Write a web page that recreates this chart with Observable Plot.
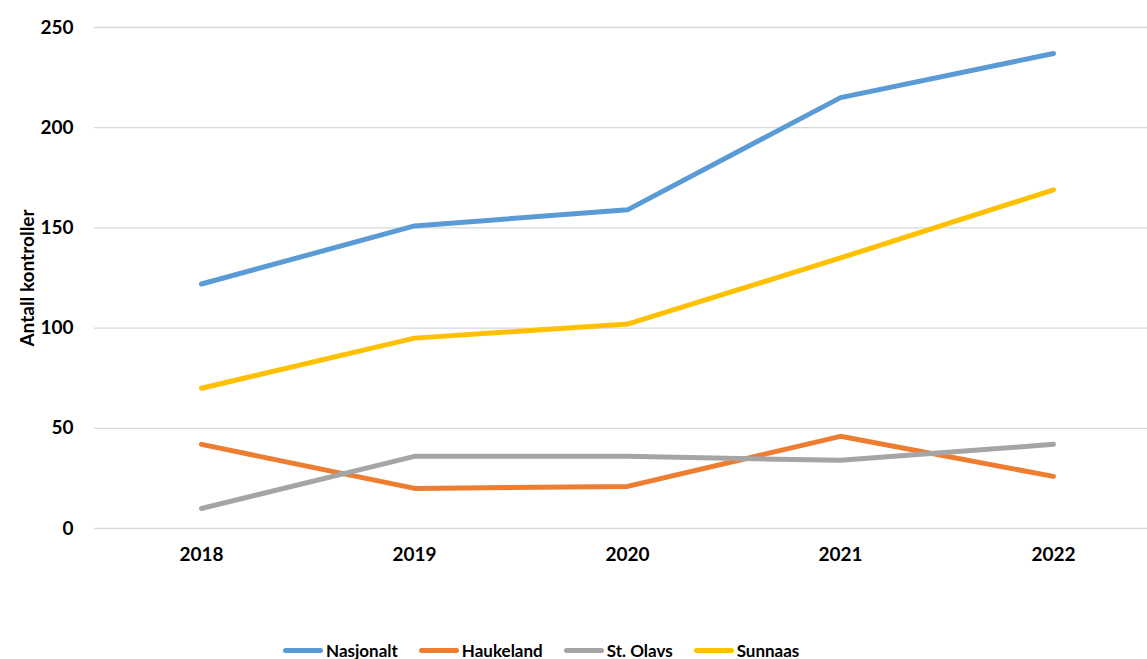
<!DOCTYPE html>
<html>
<head>
<meta charset="utf-8">
<script src="https://cdn.jsdelivr.net/npm/d3@7"></script>
<script src="https://cdn.jsdelivr.net/npm/@observablehq/plot@0.6"></script>
<style>
  html, body { margin: 0; padding: 0; background: #fff; }
  #wrap { position: relative; width: 1147px; height: 659px; overflow: hidden; font-family: Lato, "Open Sans", sans-serif; }
  #legend { position: absolute; left: 283px; top: 638px; height: 24px; display: flex; align-items: center; gap: 21px; font-weight: 700; font-size: 17px; color: #000; }
  .item { display: flex; align-items: center; gap: 3px; }
  .sw { width: 40px; height: 5px; border-radius: 3px; }
</style>
</head>
<body>
<div id="wrap"><div id="chart"></div><div id="legend"></div></div>
<script>
const years = ["2018", "2019", "2020", "2021", "2022"];
const seriesNames = ["Nasjonalt", "Haukeland", "St. Olavs", "Sunnaas"];
const nasjonalt = [122, 151, 159, 215, 237];
const haukeland = [42, 20, 21, 46, 26];
const stOlavs = [10, 36, 36, 34, 42];
const sunnaas = [70, 95, 102, 135, 169];
const colors = ["#5B9BD5", "#ED7D31", "#A5A5A5", "#FFC000"];
const yTicks = [0, 50, 100, 150, 200, 250];

const valuesBySeries = [nasjonalt, haukeland, stOlavs, sunnaas];
const data = [];
seriesNames.forEach((s, i) => years.forEach((y, j) => data.push({series: s, year: y, value: valuesBySeries[i][j]})));

const chart = Plot.plot({
  width: 1147,
  height: 625,
  marginTop: 27,
  marginBottom: 97,
  marginLeft: 94,
  marginRight: 0,
  style: {fontFamily: "Lato, 'Open Sans', sans-serif", fontWeight: 700, fontSize: "19px", color: "#000", background: "#fff"},
  x: {type: "point", domain: years, range: [200, 1054], padding: 0},
  y: {domain: [0, 250]},
  color: {domain: seriesNames, range: colors},
  marks: [
    Plot.ruleY(yTicks, {stroke: "#D9D9D9", strokeWidth: 1.3}),
    Plot.axisY(yTicks, {tickSize: 0, tickPadding: 21, fontSize: 19, fontWeight: 700, label: "Antall kontroller", labelAnchor: "center", labelArrow: "none", labelOffset: 74}),
    Plot.axisX({tickSize: 0, tickPadding: 19, fontSize: 19, fontWeight: 700, label: null}),
    Plot.line(data, {x: "year", y: "value", z: "series", stroke: "series", strokeWidth: 5, strokeLinecap: "round", strokeLinejoin: "round"})
  ]
});
document.getElementById("chart").appendChild(chart);

const legend = document.getElementById("legend");
seriesNames.forEach((s, i) => {
  const it = document.createElement("div");
  it.className = "item";
  const sw = document.createElement("div");
  sw.className = "sw";
  sw.style.background = colors[i];
  const t = document.createElement("span");
  t.textContent = s;
  it.appendChild(sw); it.appendChild(t);
  legend.appendChild(it);
});
</script>
</body>
</html>
